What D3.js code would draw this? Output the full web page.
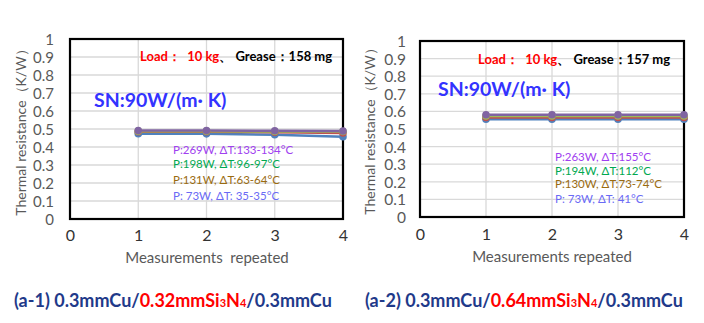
<!DOCTYPE html>
<html><head><meta charset="utf-8">
<script src="https://cdn.jsdelivr.net/npm/d3@7"></script>
<style>body{margin:0;background:#fff}svg{display:block}</style>
</head><body>
<svg id="chart" width="704" height="323"></svg>
<script>
// ---- data ----
const runs = [1, 2, 3, 4];
const xTickValues = [0, 1, 2, 3, 4];
const yTickValues = [0, 0.1, 0.2, 0.3, 0.4, 0.5, 0.6, 0.7, 0.8, 0.9, 1];
const yTickLabels = ["0", "0.1", "0.2", "0.3", "0.4", "0.5", "0.6", "0.7", "0.8", "0.9", "1"];

const a1Blue   = [0.474, 0.473, 0.468, 0.457];
const a1Red    = [0.485, 0.485, 0.482, 0.478];
const a1Green  = [0.488, 0.488, 0.486, 0.486];
const a1Purple = [0.491, 0.491, 0.490, 0.489];
const a1Labels = ["P:269W, ΔT:133-134°C", "P:198W, ΔT:96-97°C", "P:131W, ΔT:63-64°C", "P: 73W, ΔT: 35-35°C"];

const a2Blue   = [0.555, 0.555, 0.555, 0.555];
const a2Red    = [0.565, 0.565, 0.565, 0.565];
const a2Green  = [0.574, 0.574, 0.574, 0.574];
const a2Purple = [0.581, 0.581, 0.581, 0.581];
const a2Labels = ["P:263W, ΔT:155°C", "P:194W, ΔT:112°C", "P:130W, ΔT:73-74°C", "P: 73W, ΔT: 41°C"];

const seriesColors = ["#4F81BD", "#C0504D", "#9BBB59", "#8064A2"]; // blue, red, green, purple
const labelColors = ["#A040F0", "#00A850", "#9A6B10", "#6A6AF5"];

const yTitle = "Thermal resistance（K/W）";
const xTitle1 = "Measurements  repeated";
const xTitle2 = "Measurements repeated";
const sn = "SN:90W/(m· K)";

const svg = d3.select("#chart");
const FONT = "Lato, 'Open Sans', sans-serif";

function panel(cfg) {
  const x = d3.scaleLinear().domain([0, 4]).range([cfg.x0, cfg.x1]);
  const y = d3.scaleLinear().domain([0, 1]).range([cfg.y0, cfg.y1]);
  const g = svg.append("g");

  // gridlines
  g.selectAll(".hg").data(yTickValues.slice(1, -1)).enter().append("line")
    .attr("x1", cfg.x0).attr("x2", cfg.x1).attr("y1", d => y(d)).attr("y2", d => y(d))
    .attr("stroke", "#D9D9D9").attr("stroke-width", 1.3);
  g.selectAll(".vg").data(xTickValues.slice(1, -1)).enter().append("line")
    .attr("y1", cfg.y0).attr("y2", cfg.y1).attr("x1", d => x(d)).attr("x2", d => x(d))
    .attr("stroke", "#D9D9D9").attr("stroke-width", 1.3);

  // frame
  g.append("rect").attr("x", cfg.x0).attr("y", cfg.y1)
    .attr("width", cfg.x1 - cfg.x0).attr("height", cfg.y0 - cfg.y1)
    .attr("fill", "none").attr("stroke", "#000").attr("stroke-width", 2.2);

  // y axis
  const ya = d3.axisLeft(y).tickValues(yTickValues).tickSize(0).tickPadding(0)
    .tickFormat((d, i) => yTickLabels[i]);
  const yg = g.append("g").attr("transform", `translate(${cfg.yLabelX},0)`).call(ya);
  yg.select(".domain").remove();
  yg.selectAll("text").attr("font-family", FONT).attr("font-size", cfg.yFont).attr("fill", "#595959")
    .attr("dy", "0.35em");

  // x axis
  const xa = d3.axisBottom(x).tickValues(xTickValues).tickSize(0).tickPadding(0).tickFormat(d3.format("d"));
  const xg = g.append("g").attr("transform", `translate(0,${cfg.xLabelY})`).call(xa);
  xg.select(".domain").remove();
  xg.selectAll("text").attr("font-family", FONT).attr("font-size", 16).attr("fill", "#333")
    .attr("dy", "0.35em");

  // titles
  g.append("text").attr("transform", `translate(${cfg.yTitleX},${cfg.yTitleY}) rotate(-90)`)
    .attr("text-anchor", "middle").attr("dy", "0.35em").attr("font-family", FONT)
    .attr("font-size", 14).attr("fill", "#595959").text(yTitle);
  g.append("text").attr("x", cfg.xTitleX).attr("y", cfg.xTitleY)
    .attr("text-anchor", "middle").attr("dy", "0.35em").attr("font-family", FONT)
    .attr("font-size", 15).attr("fill", "#595959").attr("xml:space", "preserve").text(cfg.xTitle);

  // series
  const line = d3.line().x((d, i) => x(runs[i])).y(d => y(d));
  cfg.series.forEach((vals, si) => {
    g.append("path").datum(vals).attr("d", line).attr("fill", "none")
      .attr("stroke", seriesColors[si]).attr("stroke-width", 2.5);
  });
  cfg.series.forEach((vals, si) => {
    g.selectAll(null).data(vals).enter().append("circle")
      .attr("cx", (d, i) => x(runs[i])).attr("cy", d => y(d)).attr("r", 3.8)
      .attr("fill", seriesColors[si]);
  });

  // annotations
  const t = g.append("text").attr("x", cfg.loadX).attr("y", cfg.loadY).attr("dy", "0.35em")
    .attr("font-family", FONT).attr("font-size", 13).attr("font-weight", "bold")
    .attr("xml:space", "preserve");
  t.append("tspan").attr("fill", "#FF0000").text("Load：  10 kg");
  t.append("tspan").attr("fill", "#000").text("、 Grease：" + cfg.grease);

  g.append("text").attr("x", cfg.snX).attr("y", cfg.snY).attr("dy", "0.35em")
    .attr("font-family", FONT).attr("font-size", 19.5).attr("font-weight", "bold")
    .attr("fill", "#3333FF").text(sn);

  cfg.labels.forEach((s, i) => {
    g.append("text").attr("x", cfg.labX).attr("y", cfg.labYs[i]).attr("dy", "0.35em")
      .attr("font-family", FONT).attr("font-size", 11.5).attr("fill", labelColors[i]).text(s);
  });
}

panel({
  x0: 70, x1: 343, y0: 219, y1: 39, yLabelX: 54, yFont: 15, xLabelY: 235,
  yTitleX: 21, yTitleY: 129, xTitleX: 207, xTitleY: 258, xTitle: xTitle1,
  series: [a1Blue, a1Red, a1Green, a1Purple],
  loadX: 140, loadY: 56, grease: "158 mg", snX: 94, snY: 100,
  labels: a1Labels, labX: 173, labYs: [150, 164, 180, 196]
});
panel({
  x0: 420, x1: 684, y0: 217, y1: 41, yLabelX: 406, yFont: 15.5, xLabelY: 234,
  yTitleX: 370, yTitleY: 128, xTitleX: 552, xTitleY: 257, xTitle: xTitle2,
  series: [a2Blue, a2Red, a2Green, a2Purple],
  loadX: 478, loadY: 59, grease: "157 mg", snX: 438, snY: 89,
  labels: a2Labels, labX: 555, labYs: [157, 171, 184, 199]
});

// captions
function caption(x, pre, mid, post) {
  const t = svg.append("text").attr("x", x).attr("y", 301).attr("dy", "0.35em")
    .attr("font-family", FONT).attr("font-size", 18).attr("font-weight", "bold").attr("fill", "#1F3A8A")
    .attr("xml:space", "preserve");
  t.append("tspan").text(pre);
  t.append("tspan").attr("fill", "#FF0000").text(mid);
  t.append("tspan").attr("fill", "#FF0000").attr("font-size", 11).text("3");
  t.append("tspan").attr("fill", "#FF0000").text("N");
  t.append("tspan").attr("fill", "#FF0000").attr("font-size", 11).text("4");
  t.append("tspan").text(post);
}
caption(14, "(a-1) 0.3mmCu/", "0.32mmSi", "/0.3mmCu");
caption(365, "(a-2) 0.3mmCu/", "0.64mmSi", "/0.3mmCu");
</script>
</body></html>
